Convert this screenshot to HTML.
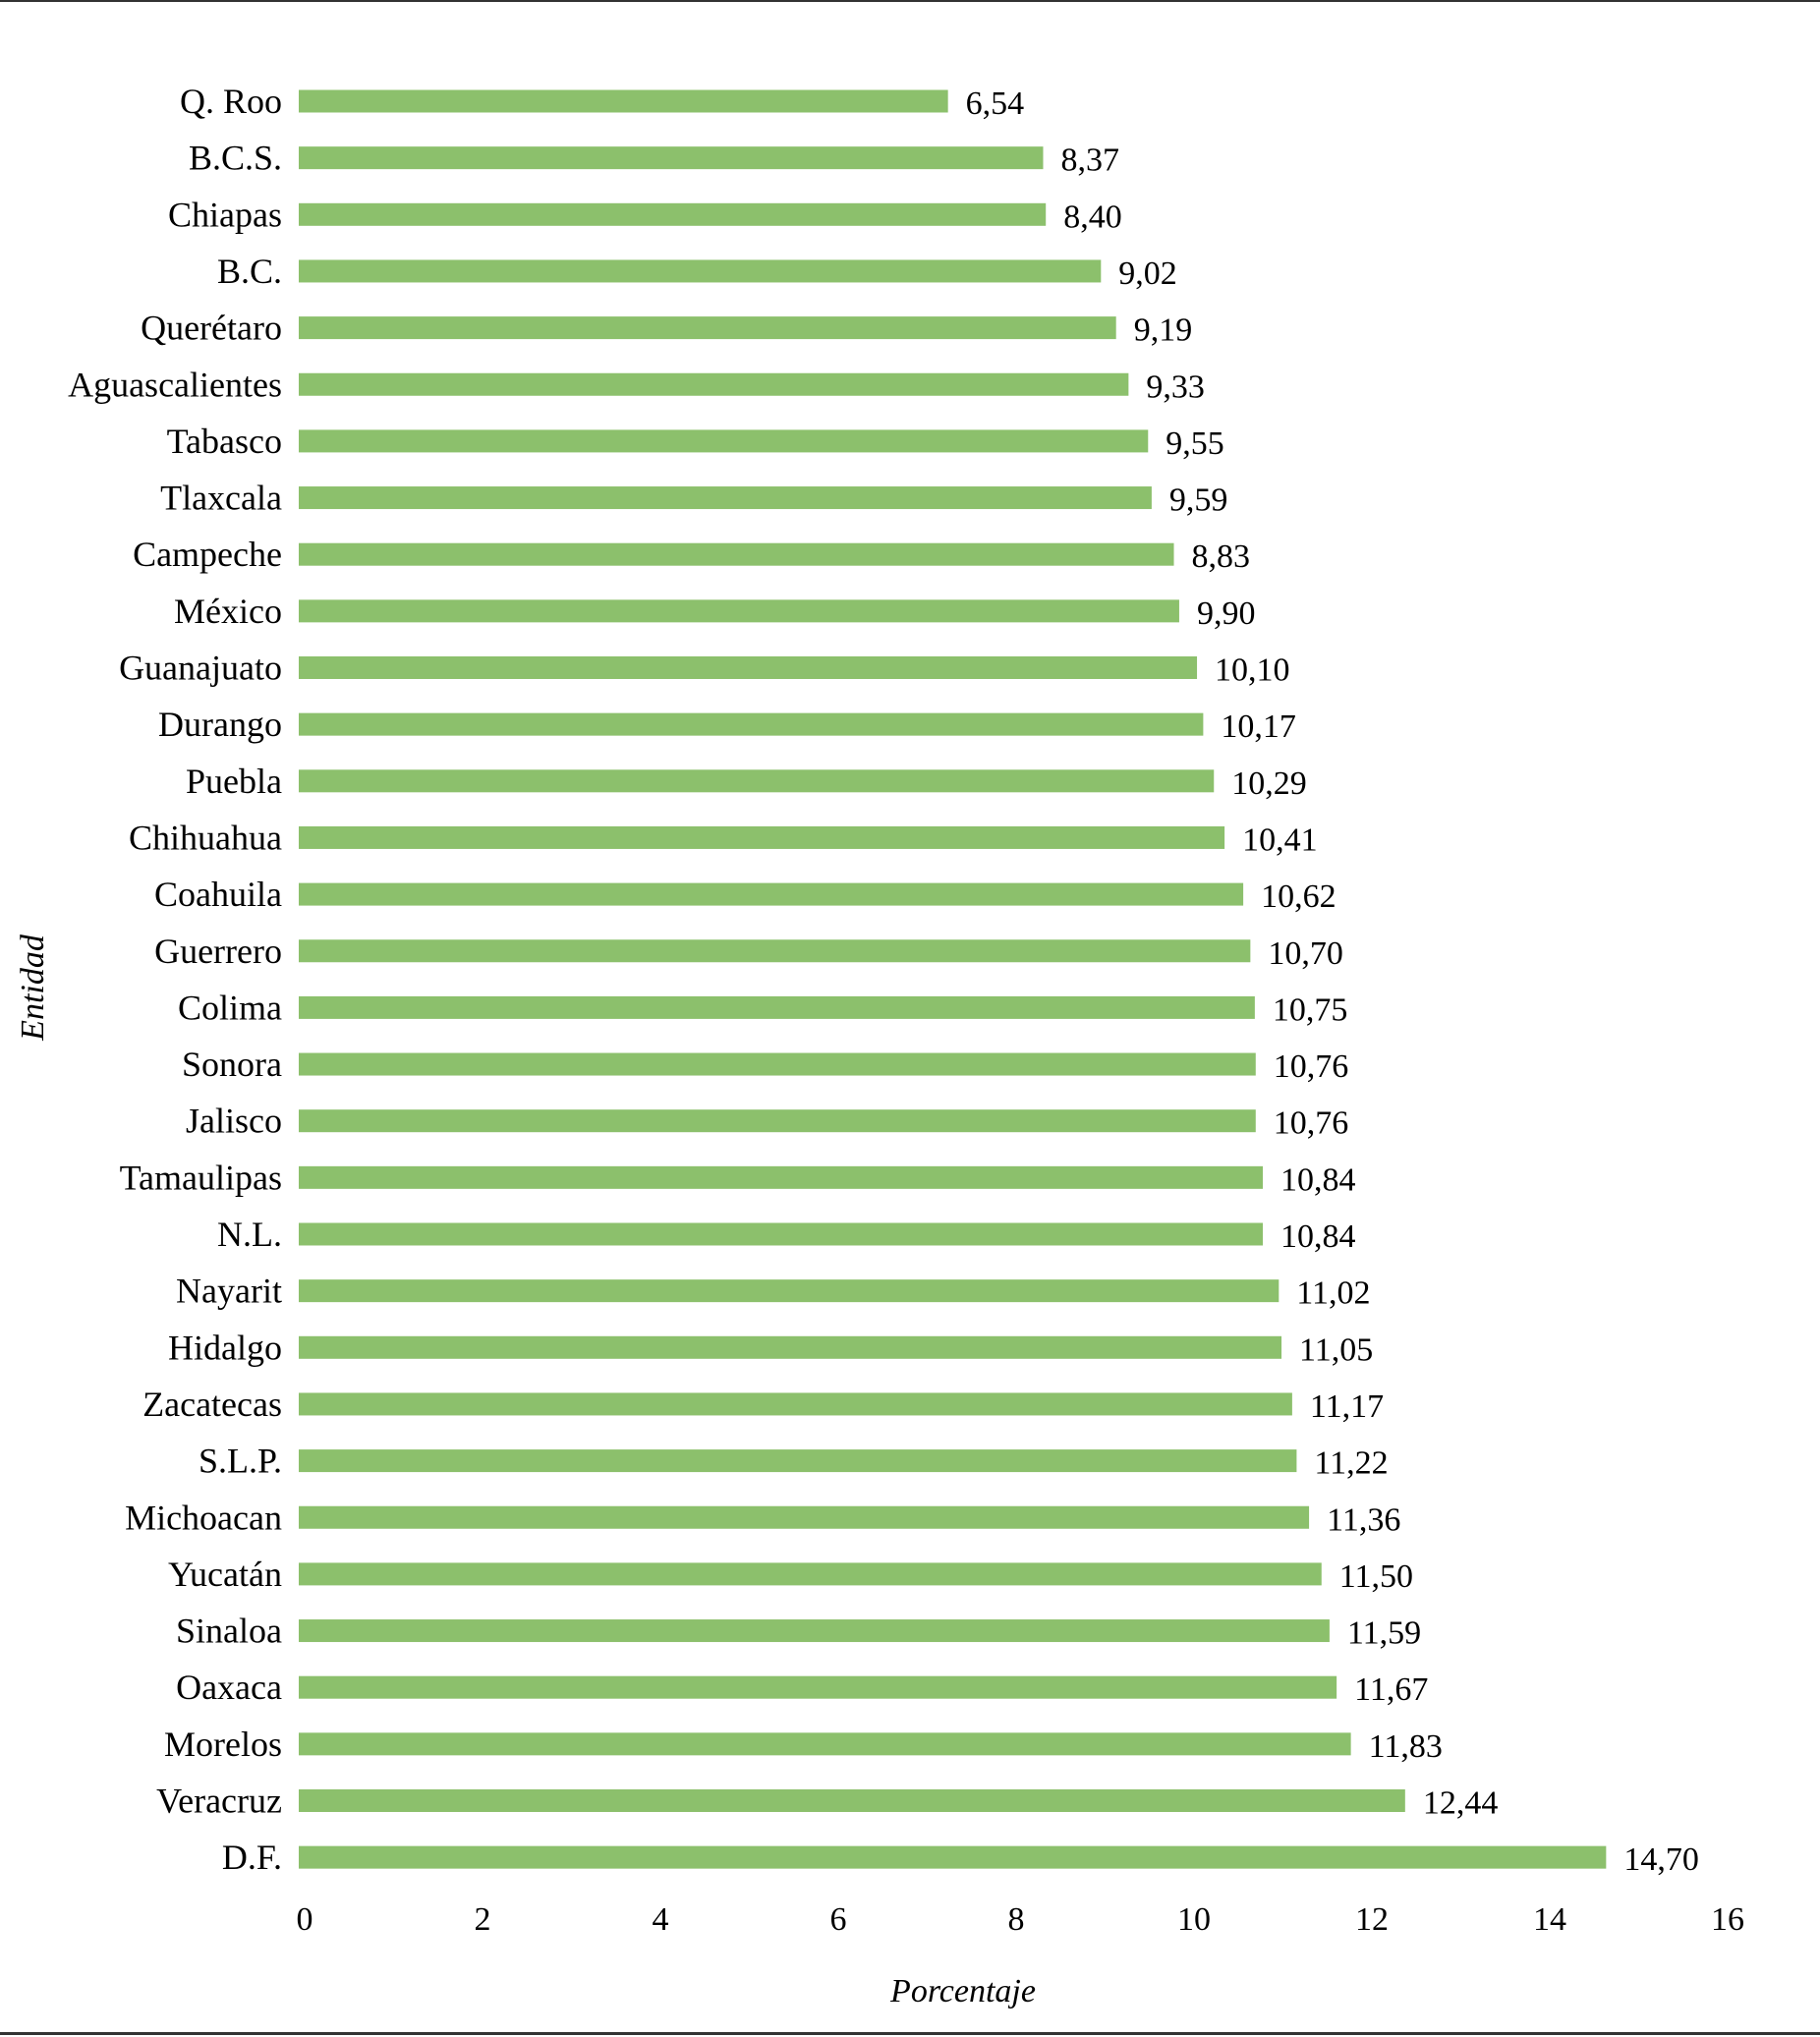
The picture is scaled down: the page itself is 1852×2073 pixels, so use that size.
<!DOCTYPE html>
<html><head><meta charset="utf-8"><style>
html,body{margin:0;padding:0;background:#fff;}
svg{display:block;font-family:"Liberation Serif",serif;}
</style></head><body>
<svg id="chart" width="1852" height="2073" viewBox="0 0 1852 2073">
<rect x="0" y="0" width="1852" height="2" fill="#333"/>
<rect x="0" y="2068" width="1852" height="3" fill="#333"/>
<g id="bars"></g>
<g id="xticks"></g>
<text x="980" y="2037" font-size="34" font-style="italic" text-anchor="middle">Porcentaje</text>
<text transform="translate(44,1005) rotate(-90)" font-size="34" font-style="italic" text-anchor="middle">Entidad</text>
</svg>
<script>
const categories = ["Q. Roo","B.C.S.","Chiapas","B.C.","Querétaro","Aguascalientes","Tabasco","Tlaxcala","Campeche","México","Guanajuato","Durango","Puebla","Chihuahua","Coahuila","Guerrero","Colima","Sonora","Jalisco","Tamaulipas","N.L.","Nayarit","Hidalgo","Zacatecas","S.L.P.","Michoacan","Yucatán","Sinaloa","Oaxaca","Morelos","Veracruz","D.F."];
const values = [7.30,8.37,8.40,9.02,9.19,9.33,9.55,9.59,9.84,9.90,10.10,10.17,10.29,10.41,10.62,10.70,10.75,10.76,10.76,10.84,10.84,11.02,11.05,11.17,11.22,11.36,11.50,11.59,11.67,11.83,12.44,14.70];
const valueLabels = ["6,54","8,37","8,40","9,02","9,19","9,33","9,55","9,59","8,83","9,90","10,10","10,17","10,29","10,41","10,62","10,70","10,75","10,76","10,76","10,84","10,84","11,02","11,05","11,17","11,22","11,36","11,50","11,59","11,67","11,83","12,44","14,70"];
const xTicks = [0,2,4,6,8,10,12,14,16];

const NS="http://www.w3.org/2000/svg";
const x0=304, unit=90.5;
function xs(v){return x0+v*unit;}
function yc(i){return 103+i*57.65;}
const gb=document.getElementById('bars');
categories.forEach((c,i)=>{
  const y=yc(i);
  const r=document.createElementNS(NS,'rect');
  r.setAttribute('x',x0);r.setAttribute('y',y-11.5);
  r.setAttribute('width',xs(values[i])-x0);r.setAttribute('height',23);
  r.setAttribute('fill','#8cc06c');
  
  
  gb.appendChild(r);
  const t=document.createElementNS(NS,'text');
  t.setAttribute('x',287);t.setAttribute('y',y+12);
  t.setAttribute('text-anchor','end');t.setAttribute('font-size','36');
  t.textContent=c;
  
  
  gb.appendChild(t);
  const v=document.createElementNS(NS,'text');
  v.setAttribute('x',xs(values[i])+18);v.setAttribute('y',y+13);
  v.setAttribute('font-size','34');
  v.textContent=valueLabels[i];
  
  
  gb.appendChild(v);
});
const gx=document.getElementById('xticks');
xTicks.forEach(k=>{
  const t=document.createElementNS(NS,'text');
  t.setAttribute('x',xs(k)+6);t.setAttribute('y',1964);
  t.setAttribute('text-anchor','middle');t.setAttribute('font-size','34');
  t.textContent=k;
  
  
  gx.appendChild(t);
});
</script>
</body></html>
